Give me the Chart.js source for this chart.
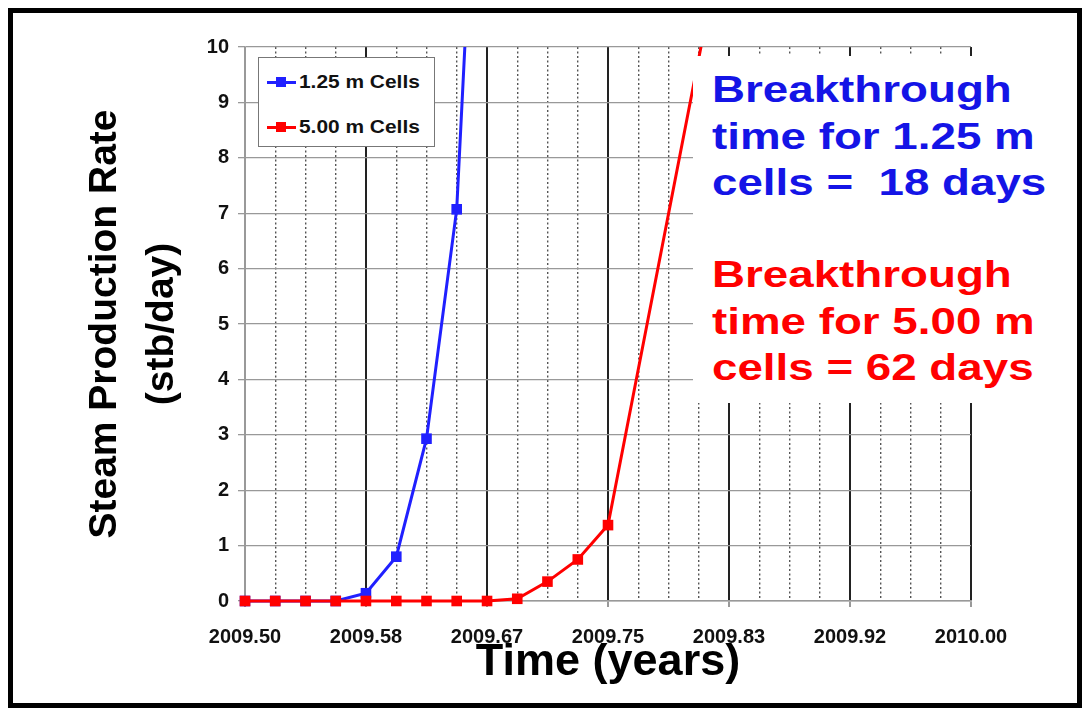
<!DOCTYPE html>
<html>
<head>
<meta charset="utf-8">
<script src="https://cdn.jsdelivr.net/npm/chart.js@4.4.1/dist/chart.umd.min.js"></script>
<style>
    html, body { margin: 0; padding: 0; background: #fff; }
    #wrap { position: relative; width: 1089px; height: 714px; overflow: hidden; font-family: "Liberation Sans", Arial, sans-serif; }
    #frame { position: absolute; left: 8px; top: 8px; width: 1064px; height: 690px; border: 5px solid #000; pointer-events: none; }
    #legend { position: absolute; left: 258px; top: 57px; width: 175px; height: 88px; border: 1px solid #777; background: #fff; }
    .item { position: absolute; left: 0; height: 24px; width: 175px; }
    .item .ln { position: absolute; left: 8px; top: 11px; width: 29px; height: 3px; }
    .item .mk { position: absolute; left: 17px; top: 7px; width: 10px; height: 10px; }
    .item .tx { position: absolute; left: 40px; top: 0; font-weight: bold; font-size: 19px; line-height: 24px; color: #111; white-space: nowrap; transform: scaleX(1.1); transform-origin: left center; }
    #note { position: absolute; left: 693px; top: 56px; width: 360px; height: 347px; background: #fff; }
    .blk { position: absolute; left: 19px; font-weight: bold; font-size: 36px; line-height: 46.5px; white-space: nowrap; transform: scaleX(1.27); transform-origin: left top; }
</style>
</head>
<body>
<div id="wrap">
    <canvas id="steamChart" width="1089" height="714"></canvas>
    <div id="legend"></div>
    <div id="note">
        <div class="blk" style="top: 11px; color: #1414e6;">Breakthrough<br>time for 1.25 m<br>cells =&nbsp; 18 days</div>
        <div class="blk" style="top: 196px; color: #ff0000;">Breakthrough<br>time for 5.00 m<br>cells = 62 days</div>
    </div>
    <div id="frame"></div>
</div>
<script>
// time (years) and steam rate (stb/day)
const timeFine = [2009.5000, 2009.5208, 2009.5417, 2009.5625, 2009.5833, 2009.6042, 2009.6250, 2009.6458, 2009.6667];
const rateFine = [0, 0, 0, 0, 0.14, 0.80, 2.93, 7.07, 18.0];

const timeCoarse = [2009.5000, 2009.5208, 2009.5417, 2009.5625, 2009.5833, 2009.6042, 2009.6250, 2009.6458,
                    2009.6667, 2009.6875, 2009.7083, 2009.7292, 2009.7500, 2009.8333];
const rateCoarse = [0, 0, 0, 0, 0, 0, 0, 0, 0, 0.04, 0.35, 0.75, 1.37, 12.6];

const seriesNames = ['1.25 m Cells', '5.00 m Cells'];
const seriesColors = ['#2020ff', '#ff0000'];

const monthLabels = ['2009.50', '2009.58', '2009.67', '2009.75', '2009.83', '2009.92', '2010.00'];
const xMin = 2009.5, xMax = 2010.0, gridStep = 1 / 48;

function toPoints(xs, ys) {
    return xs.map((x, i) => ({ x: x, y: ys[i] }));
}

// html legend
const legendBox = document.getElementById('legend');
seriesNames.forEach((name, i) => {
    const item = document.createElement('div');
    item.className = 'item';
    item.style.top = (12 + i * 45) + 'px';
    item.innerHTML = '<div class="ln" style="background:' + seriesColors[i] + '"></div>' +
        '<div class="mk" style="background:' + seriesColors[i] + '"></div>' +
        '<div class="tx">' + name + '</div>';
    legendBox.appendChild(item);
});

const isMajor = (ctx) => ctx.index % 4 === 0;

const ctx = document.getElementById('steamChart').getContext('2d');
new Chart(ctx, {
    type: 'line',
    data: {
        datasets: [{
            label: seriesNames[0],
            data: toPoints(timeFine, rateFine),
            order: 1,  // red sits on top of blue where they overlap
            borderColor: seriesColors[0],
            backgroundColor: seriesColors[0],
            borderWidth: 3,
            pointStyle: 'rect',
            pointRadius: 7.5,
            pointBorderWidth: 0,
            clip: { left: 10, right: 10, top: 0, bottom: 10 }
        }, {
            label: seriesNames[1],
            data: toPoints(timeCoarse, rateCoarse),
            order: 0,
            borderColor: seriesColors[1],
            backgroundColor: seriesColors[1],
            borderWidth: 3,
            pointStyle: 'rect',
            pointRadius: 7.5,
            pointBorderWidth: 0,
            clip: { left: 10, right: 10, top: 0, bottom: 10 }
        }]
    },
    options: {
        responsive: false,
        animation: false,
        layout: { padding: { left: 0, right: 118, top: 47, bottom: 0 } },
        plugins: {
            legend: { display: false },
            tooltip: { enabled: false }
        },
        scales: {
            x: {
                type: 'linear',
                min: xMin,
                max: xMax,
                afterBuildTicks: (axis) => {
                    const ticks = [];
                    for (let i = 0; i <= 24; i++) ticks.push({ value: xMin + i * gridStep });
                    axis.ticks = ticks;
                },
                afterFit: (axis) => { axis.height = 113; },
                ticks: {
                    autoSkip: false,
                    maxRotation: 0,
                    padding: 18,
                    color: '#111',
                    font: { family: '"Liberation Sans", Arial', size: 20, weight: 'bold' },
                    callback: (value, index) => index % 4 === 0 ? monthLabels[index / 4] : ''
                },
                grid: {
                    color: (c) => c.index === 0 ? '#999' : (isMajor(c) ? '#222' : '#555'),
                    lineWidth: (c) => isMajor(c) ? 2 : 1.4,
                    tickLength: 6,
                    tickColor: (c) => isMajor(c) ? '#999' : 'rgba(0,0,0,0)'
                },
                border: {
                    color: '#999',
                    width: 1.5,
                    dash: (c) => (c.tick && c.index % 4 !== 0) ? [2, 2.5] : []
                },
                title: {
                    display: true,
                    text: 'Time (years)',
                    color: '#000',
                    font: { family: '"Liberation Sans", Arial', size: 45, weight: 'bold', lineHeight: 1 },
                    padding: { top: 0, bottom: 29 }
                }
            },
            y: {
                min: 0,
                max: 10,
                afterFit: (axis) => { axis.width = 245; },
                ticks: {
                    stepSize: 1,
                    padding: 9,
                    color: '#111',
                    font: { family: '"Liberation Sans", Arial', size: 20, weight: 'bold' }
                },
                grid: {
                    color: '#999',
                    lineWidth: 1.3,
                    tickLength: 7
                },
                border: { color: '#999', width: 1.5 },
                title: {
                    display: true,
                    text: ['Steam Production Rate', '(stb/day)'],
                    color: '#000',
                    font: { family: '"Liberation Sans", Arial', size: 39, weight: 'bold', lineHeight: 1.45 },
                    padding: { top: 77, bottom: 0 }
                }
            }
        }
    }
});
</script>
</body>
</html>
